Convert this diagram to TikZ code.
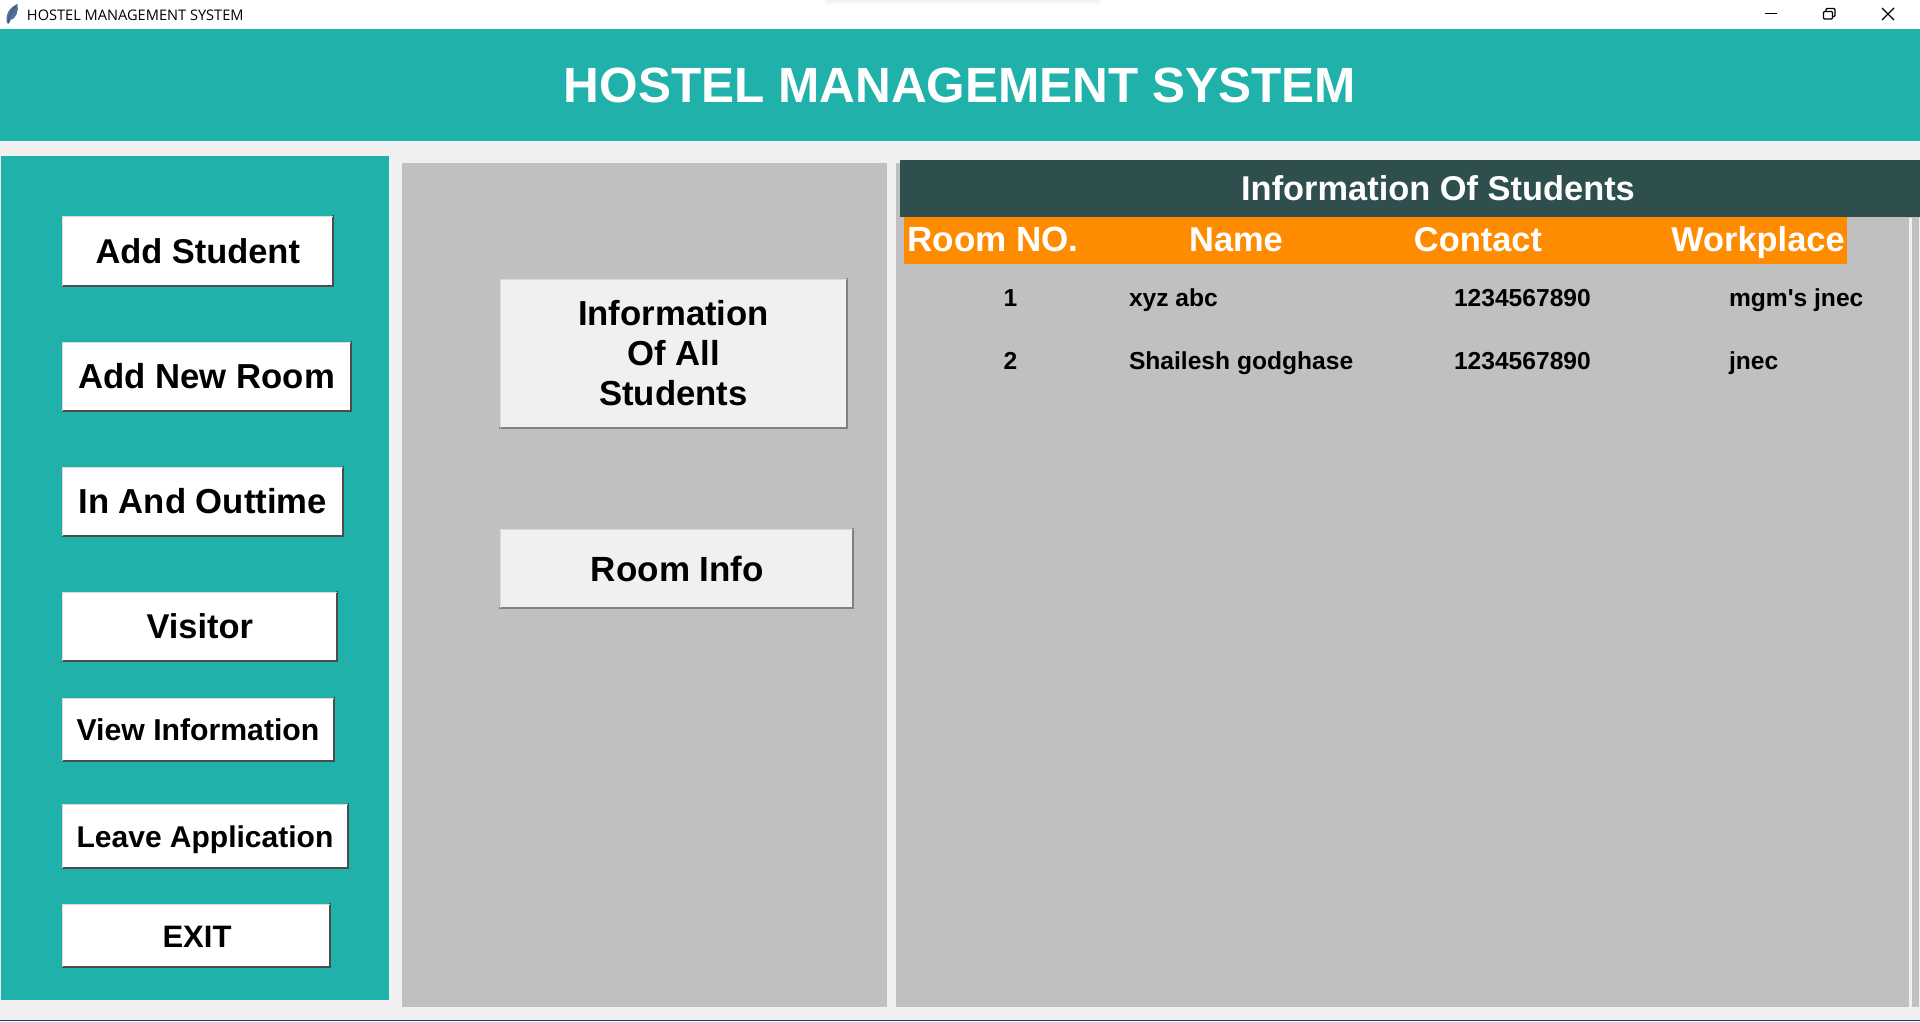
\documentclass[tikz,border=0pt]{standalone}
\usepackage{fontspec}
\setmainfont{Liberation Sans}
\newfontfamily\uifont{Open Sans}
\definecolor{teal1}{HTML}{20B2AA}
\definecolor{win}{HTML}{F0F0F0}
\definecolor{gr}{HTML}{C0C0C0}
\definecolor{slate}{HTML}{2F4F4F}
\definecolor{orng}{HTML}{FF8C00}
\definecolor{navy1}{HTML}{0A3A78}
\definecolor{feath}{HTML}{4F6F9F}
\newcommand{\fsz}[1]{\fontsize{#1}{#1}\selectfont\bfseries}
% \boxat{name}{style}{x0}{y0}{x1}{y1}{text}
\newcommand{\boxat}[7]{%
  \pgfmathsetmacro{\bw}{#5-#3}\pgfmathsetmacro{\bh}{#6-#4}%
  \pgfmathsetmacro{\bx}{(#3+#5)/2}\pgfmathsetmacro{\by}{(#4+#6)/2}%
  \node[#2,minimum width=\bw pt,minimum height=\bh pt] (#1) at (\bx,\by) {#7};}
\newcommand{\bevel}[2][bevdark]{%
  \draw[#1] ([yshift=1pt]#2.north east) -- (#2.south east) -- ([xshift=-1pt]#2.south west);
  \draw[bevlight] (#2.south west) -- (#2.north west) -- (#2.north east);}
\tikzset{
  panel/.style={inner sep=0pt,outer sep=0pt,draw=none},
  tealp/.style={panel,fill=teal1},
  grayp/.style={panel,fill=gr},
  whitebtn/.style={panel,fill=white,align=center,text=black},
  graybtn/.style={panel,fill=win,align=center,text=black},
  bevdark/.style={draw=black!70,line width=2.2pt},
  bevgray/.style={draw=black!50,line width=2.2pt},
  bevlight/.style={draw=white!85!black,line width=1pt},
  lab/.style={inner sep=0pt,outer sep=0pt,anchor=base},
  cell/.style={inner sep=0pt,outer sep=0pt,anchor=base west,text=black},
  wicon/.style={draw=black,line width=1.1pt},
}
\begin{document}
\begin{tikzpicture}[x=1pt,y=-1pt]
\useasboundingbox (0,0) rectangle (1920,1021);
\fill[win] (0,0) rectangle (1920,1021);
\boxat{tbar}{panel,fill=white}{0}{0}{1920}{29}{}
\shade[top color=black!5,bottom color=white] (825,0) rectangle (1100,5);
\boxat{taskline}{panel,fill=navy1}{0}{1019.5}{1920}{1021}{}
\node[lab,anchor=base west,font=\uifont\fontsize{14.6}{15}\selectfont] (wtitle) at (27,20) {HOSTEL MANAGEMENT SYSTEM};
% feather icon
\fill[feath] (7,23) .. controls (5,14) and (10,7) .. (17.5,4) .. controls (19,11) and (16,19) .. (10.5,20) -- (9,23.5) -- cycle;
\draw[black!70,line width=0.7pt] (8,23.5) .. controls (9,16) and (12,10) .. (16,6);
% window controls
\coordinate (minA) at (1765,13.5); \coordinate (minB) at (1777,13.5);
\draw[wicon] (minA) -- (minB);
\draw[wicon,rounded corners=1pt] (1823.5,11.5) rectangle (1832.5,19);
\draw[wicon,rounded corners=1pt] (1826,11) -- (1826,8.5) -- (1835,8.5) -- (1835,16.5) -- (1833,16.5);
\coordinate (xA) at (1882,8); \coordinate (xB) at (1894,20);
\coordinate (xC) at (1894,8); \coordinate (xD) at (1882,20);
\draw[wicon] (xA) -- (xB) (xC) -- (xD);
% panels
\boxat{head}{tealp}{0}{29}{1920}{141}{}
\node[lab,text=white,font=\fsz{49.5}] (headt) at (960,102) {HOSTEL MANAGEMENT SYSTEM};
\boxat{left}{tealp}{1}{156}{389}{1000}{}
\boxat{mid}{grayp}{402}{163}{887}{1007}{}
\boxat{right}{grayp}{896}{163}{1919}{1007}{}
\boxat{scrl}{panel,fill=win}{1909}{218}{1911.5}{1007}{}
\boxat{dark}{panel,fill=slate}{900}{160}{1920}{217}{}
\node[lab,text=white,font=\fsz{34.4}] (darkt) at (1438,200) {Information Of Students};
\boxat{orange}{panel,fill=orng}{904}{216.5}{1847}{264}{}
\node[lab,text=white,font=\fsz{35}] (h1) at (993,251) {Room NO.};
\node[lab,text=white,font=\fsz{34.4}] (h2) at (1236,251) {Name};
\node[lab,text=white,font=\fsz{34.4}] (h3) at (1478,251) {Contact};
\node[lab,text=white,font=\fsz{34.4}] (h4) at (1758,251) {Workplace};
% rows
\node[lab,text=black,font=\fsz{24.6}] (r1a) at (1010.5,306) {1};
\node[cell,font=\fsz{24.6}] (r1b) at (1129,306) {xyz abc};
\node[cell,font=\fsz{24.6}] (r1c) at (1454,306) {1234567890};
\node[cell,font=\fsz{24.6}] (r1d) at (1729,306) {mgm\textquotesingle s jnec};
\node[lab,text=black,font=\fsz{24.6}] (r2a) at (1010.5,369) {2};
\node[cell,font=\fsz{24.6}] (r2b) at (1129,369) {Shailesh godghase};
\node[cell,font=\fsz{24.6}] (r2c) at (1454,369) {1234567890};
\node[cell,font=\fsz{24.6}] (r2d) at (1729,369) {jnec};
% left buttons
\boxat{b1}{whitebtn,font=\fsz{34.4}}{62.5}{216}{333}{286}{Add Student}\bevel{b1}
\boxat{b2}{whitebtn,font=\fsz{34.7}}{62.5}{342}{351}{411}{Add New Room}\bevel{b2}
\boxat{b3}{whitebtn,font=\fsz{34.7}}{62.5}{467}{343}{536}{In And Outtime}\bevel{b3}
\boxat{b4}{whitebtn,font=\fsz{34.4}}{62.5}{592}{337}{661}{Visitor}\bevel{b4}
\boxat{b5}{whitebtn}{62.5}{698}{334}{761}{}\bevel{b5}
\node[lab,font=\fsz{30.2}] (b5t) at (198,740) {View Information};
\boxat{b6}{whitebtn}{62.5}{804}{348}{868}{}\bevel{b6}
\node[lab,font=\fsz{30}] (b6t) at (205,847) {Leave Application};
\boxat{b7}{whitebtn}{62.5}{904}{330}{967}{}\bevel{b7}
\node[lab,font=\fsz{31}] (b7t) at (197,947) {EXIT};
% middle buttons
\boxat{m1}{graybtn,font=\fontsize{34.7}{40}\selectfont\bfseries}{500}{279}{847}{428}{Information\\Of All\\Students}\bevel[bevgray]{m1}
\boxat{m2}{graybtn}{500}{529}{853}{608}{}\bevel[bevgray]{m2}
\node[lab,font=\fsz{35}] (m2l) at (677.5,581) {Room Info};
\end{tikzpicture}
\end{document}
